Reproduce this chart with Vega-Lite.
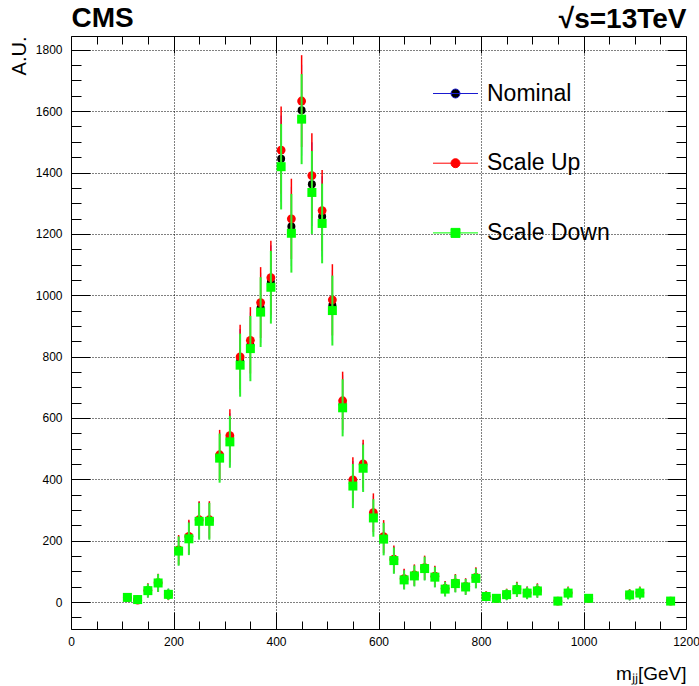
{
  "$schema": "https://vega.github.io/schema/vega-lite/v6.json",
  "width": 615,
  "height": 593,
  "autosize": {"type": "none"},
  "padding": {"left": 71, "top": 36, "right": 13, "bottom": 57},
  "background": "white",
  "config": {
    "view": {"stroke": "black", "strokeWidth": 1},
    "font": "Liberation Sans",
    "axis": {"labelFont": "Liberation Sans", "titleFont": "Liberation Sans", "labelColor": "black", "titleColor": "black", "tickColor": "black", "domain": false, "minExtent": 0, "maxExtent": 200}
  },
  "data": {"values": [
    {"m":110,"n":15,"en":14.3,"u":14,"eu":13.8,"d":15,"ed":14.3},
    {"m":130,"n":8,"en":10.5,"u":6,"eu":9.1,"d":8,"ed":10.5},
    {"m":150,"n":37,"en":22.5,"u":38,"eu":22.8,"d":37,"ed":22.5},
    {"m":170,"n":62,"en":29.1,"u":63,"eu":29.4,"d":62,"ed":29.1},
    {"m":190,"n":25,"en":18.5,"u":24,"eu":18.1,"d":25,"ed":18.5},
    {"m":210,"n":168,"en":48.0,"u":170,"eu":48.2,"d":166,"ed":47.7},
    {"m":230,"n":210,"en":53.6,"u":214,"eu":54.1,"d":206,"ed":53.1},
    {"m":250,"n":266,"en":60.3,"u":268,"eu":60.6,"d":263,"ed":60.0},
    {"m":270,"n":266,"en":60.3,"u":268,"eu":60.6,"d":263,"ed":60.0},
    {"m":290,"n":474,"en":80.6,"u":480,"eu":81.1,"d":469,"ed":80.1},
    {"m":310,"n":530,"en":85.2,"u":542,"eu":86.1,"d":522,"ed":84.5},
    {"m":330,"n":786,"en":103.7,"u":799,"eu":104.6,"d":772,"ed":102.8},
    {"m":350,"n":837,"en":107.0,"u":853,"eu":108.1,"d":826,"ed":106.3},
    {"m":370,"n":959,"en":114.6,"u":976,"eu":115.6,"d":945,"ed":113.7},
    {"m":390,"n":1043,"en":119.5,"u":1057,"eu":120.3,"d":1026,"ed":118.5},
    {"m":410,"n":1445,"en":140.6,"u":1473,"eu":142.0,"d":1419,"ed":139.4},
    {"m":430,"n":1224,"en":129.4,"u":1249,"eu":130.8,"d":1202,"ed":128.3},
    {"m":450,"n":1603,"en":148.1,"u":1633,"eu":149.5,"d":1574,"ed":146.8},
    {"m":470,"n":1362,"en":136.5,"u":1390,"eu":137.9,"d":1335,"ed":135.2},
    {"m":490,"n":1257,"en":131.2,"u":1276,"eu":132.2,"d":1234,"ed":130.0},
    {"m":510,"n":967,"en":115.1,"u":985,"eu":116.1,"d":950,"ed":114.0},
    {"m":530,"n":645,"en":94.0,"u":656,"eu":94.8,"d":633,"ed":93.1},
    {"m":550,"n":387,"en":72.8,"u":398,"eu":73.8,"d":378,"ed":71.9},
    {"m":570,"n":441,"en":77.7,"u":450,"eu":78.5,"d":436,"ed":77.3},
    {"m":590,"n":283,"en":62.2,"u":291,"eu":63.1,"d":274,"ed":61.2},
    {"m":610,"n":208,"en":53.4,"u":213,"eu":54.0,"d":205,"ed":53.0},
    {"m":630,"n":137,"en":43.3,"u":140,"eu":43.8,"d":135,"ed":43.0},
    {"m":650,"n":74,"en":31.8,"u":76,"eu":32.3,"d":72,"ed":31.4},
    {"m":670,"n":86,"en":34.3,"u":88,"eu":34.7,"d":85,"ed":34.1},
    {"m":690,"n":110,"en":38.8,"u":112,"eu":39.2,"d":109,"ed":38.6},
    {"m":710,"n":82,"en":33.5,"u":84,"eu":33.9,"d":81,"ed":33.3},
    {"m":730,"n":43,"en":24.3,"u":44,"eu":24.5,"d":42,"ed":24.0},
    {"m":750,"n":61,"en":28.9,"u":62,"eu":29.1,"d":60,"ed":28.7},
    {"m":770,"n":50,"en":26.2,"u":51,"eu":26.4,"d":49,"ed":25.9},
    {"m":790,"n":78,"en":32.7,"u":80,"eu":33.1,"d":77,"ed":32.5},
    {"m":810,"n":18,"en":15.7,"u":19,"eu":16.1,"d":18,"ed":15.7},
    {"m":830,"n":12,"en":12.8,"u":12,"eu":12.8,"d":12,"ed":12.8},
    {"m":850,"n":24,"en":18.1,"u":25,"eu":18.5,"d":24,"ed":18.1},
    {"m":870,"n":41,"en":23.7,"u":42,"eu":24.0,"d":40,"ed":23.4},
    {"m":890,"n":30,"en":20.3,"u":30,"eu":20.3,"d":29,"ed":19.9},
    {"m":910,"n":37,"en":22.5,"u":38,"eu":22.8,"d":36,"ed":22.2},
    {"m":950,"n":3,"en":6.4,"u":3,"eu":6.4,"d":3,"ed":6.4},
    {"m":970,"n":29,"en":19.9,"u":30,"eu":20.3,"d":29,"ed":19.9},
    {"m":1010,"n":12,"en":12.8,"u":12,"eu":12.8,"d":12,"ed":12.8},
    {"m":1090,"n":23,"en":17.7,"u":24,"eu":18.1,"d":23,"ed":17.7},
    {"m":1110,"n":29,"en":19.9,"u":30,"eu":20.3,"d":29,"ed":19.9},
    {"m":1170,"n":3,"en":6.4,"u":3,"eu":6.4,"d":3,"ed":6.4}
  ]},
  "resolve": {"axis": {"x": "independent", "y": "independent"}},
  "layer": [
    {
      "mark": {"type": "errorbar", "color": "#0000ff", "thickness": 1, "opacity": 1},
      "encoding": {
        "x": {"field": "m", "type": "quantitative", "scale": {"domain": [0, 1200], "nice": false, "zero": false}, "axis": null},
        "y": {"field": "n", "type": "quantitative", "scale": {"domain": [-88, 1845], "nice": false, "zero": false}, "axis": null},
        "yError": {"field": "en"}
      }
    },
    {
      "mark": {"type": "point", "filled": true, "shape": "circle", "size": 64, "opacity": 1},
      "encoding": {
        "x": {"field": "m", "type": "quantitative", "scale": {"domain": [0, 1200], "nice": false, "zero": false},
          "axis": {"orient": "bottom", "values": [0,50,100,150,200,250,300,350,400,450,500,550,600,650,700,750,800,850,900,950,1000,1050,1100,1150,1200],
            "tickSize": {"condition": {"test": "datum.value % 200 === 0", "value": -17}, "value": -8},
            "labelExpr": "datum.value % 200 === 0 ? datum.label : ''", "labelFlush": false, "labelOverlap": false, "labelPadding": 24, "labelFontSize": 12, "format": "d",
            "grid": true, "gridColor": "black", "gridDash": [1, 2], "gridWidth": 1,
            "gridOpacity": {"condition": {"test": "datum.value % 200 === 0 && datum.value > 0 && datum.value < 1200", "value": 1}, "value": 0},
            "title": "mⱼⱼ[GeV]", "titleAnchor": "end", "titleFontSize": 19, "titleFontWeight": "normal", "titlePadding": 8}},
        "y": {"field": "n", "type": "quantitative", "scale": {"domain": [-88, 1845], "nice": false, "zero": false},
          "axis": {"orient": "left", "values": [-50,0,50,100,150,200,250,300,350,400,450,500,550,600,650,700,750,800,850,900,950,1000,1050,1100,1150,1200,1250,1300,1350,1400,1450,1500,1550,1600,1650,1700,1750,1800],
            "tickSize": {"condition": {"test": "datum.value % 200 === 0", "value": -19}, "value": -10},
            "labelExpr": "datum.value % 200 === 0 && datum.value >= 0 ? datum.label : ''", "labelFlush": false, "labelOverlap": false, "labelPadding": 28, "labelFontSize": 12, "format": "d",
            "grid": true, "gridColor": "black", "gridDash": [1, 2], "gridWidth": 1,
            "gridOpacity": {"condition": {"test": "datum.value % 200 === 0 && datum.value >= 0", "value": 1}, "value": 0},
            "title": "A.U.", "titleAnchor": "end", "titleFontSize": 20, "titleFontWeight": "normal", "titlePadding": 6}},
        "fill": {"datum": "Nominal", "type": "nominal",
          "scale": {"domain": ["Nominal", "Scale Up", "Scale Down"], "range": ["#000000", "#ff0000", "#00ff00"]},
          "legend": {"orient": "none", "legendX": 362, "legendY": 46, "title": null, "direction": "vertical", "padding": 0,
            "symbolSize": 100, "symbolOffset": 11, "labelOffset": 20, "labelFontSize": 23, "labelFont": "Liberation Sans", "labelColor": "black", "rowPadding": 45.7, "symbolStrokeWidth": 1,
            "encoding": {"symbols": {
              "shape": {"value": {"expr": "datum.value === 'Scale Down' ? 'M-4.5,0H4.5M-0.9,-0.9H0.9V0.9H-0.9Z' : 'M-4.5,0H4.5M-0.9,0A0.9,0.9,0,1,1,0.9,0A0.9,0.9,0,1,1,-0.9,0Z'"}},
              "stroke": {"value": {"expr": "datum.value === 'Nominal' ? '#1a1ad0' : datum.value === 'Scale Up' ? '#ff0000' : '#00ff00'"}},
              "strokeWidth": {"value": 1}
            }}}}
      }
    },
    {
      "mark": {"type": "errorbar", "color": "#ff0000", "thickness": 1.5, "opacity": 1},
      "encoding": {
        "x": {"field": "m", "type": "quantitative", "scale": {"domain": [0, 1200], "nice": false, "zero": false}, "axis": null},
        "y": {"field": "u", "type": "quantitative", "scale": {"domain": [-88, 1845], "nice": false, "zero": false}, "axis": null},
        "yError": {"field": "eu"}
      }
    },
    {
      "mark": {"type": "point", "filled": true, "shape": "circle", "size": 78, "opacity": 1},
      "encoding": {
        "x": {"field": "m", "type": "quantitative", "scale": {"domain": [0, 1200], "nice": false, "zero": false},
          "axis": {"orient": "top", "values": [0,50,100,150,200,250,300,350,400,450,500,550,600,650,700,750,800,850,900,950,1000,1050,1100,1150,1200],
            "tickSize": {"condition": {"test": "datum.value % 200 === 0", "value": -17}, "value": -8},
            "labels": false, "grid": false,
            "title": "CMS", "titleAnchor": "start", "titleAlign": "left", "titleFontSize": 28, "titleFontWeight": "bold", "titleBaseline": "alphabetic", "titlePadding": 9}},
        "y": {"field": "u", "type": "quantitative", "scale": {"domain": [-88, 1845], "nice": false, "zero": false},
          "axis": {"orient": "right", "values": [-50,0,50,100,150,200,250,300,350,400,450,500,550,600,650,700,750,800,850,900,950,1000,1050,1100,1150,1200,1250,1300,1350,1400,1450,1500,1550,1600,1650,1700,1750,1800],
            "tickSize": {"condition": {"test": "datum.value % 200 === 0", "value": -19}, "value": -10},
            "labels": false, "grid": false, "title": null}},
        "fill": {"datum": "Scale Up", "type": "nominal", "legend": null}
      }
    },
    {
      "mark": {"type": "errorbar", "color": "#2cf02c", "thickness": 2, "opacity": 1},
      "encoding": {
        "x": {"field": "m", "type": "quantitative", "scale": {"domain": [0, 1200], "nice": false, "zero": false}, "axis": null},
        "y": {"field": "d", "type": "quantitative", "scale": {"domain": [-88, 1845], "nice": false, "zero": false}, "axis": null},
        "yError": {"field": "ed"}
      }
    },
    {
      "mark": {"type": "point", "filled": true, "shape": "square", "size": 81, "opacity": 1},
      "encoding": {
        "x": {"field": "m", "type": "quantitative", "scale": {"domain": [0, 1200], "nice": false, "zero": false},
          "axis": {"orient": "top", "ticks": false, "labels": false, "grid": false,
            "title": "√s=13TeV", "titleAnchor": "end", "titleAlign": "right", "titleFontSize": 28, "titleFontWeight": "bold", "titleBaseline": "alphabetic", "titlePadding": 9}},
        "y": {"field": "d", "type": "quantitative", "scale": {"domain": [-88, 1845], "nice": false, "zero": false}, "axis": null},
        "fill": {"datum": "Scale Down", "type": "nominal", "legend": null}
      }
    }
  ]
}
